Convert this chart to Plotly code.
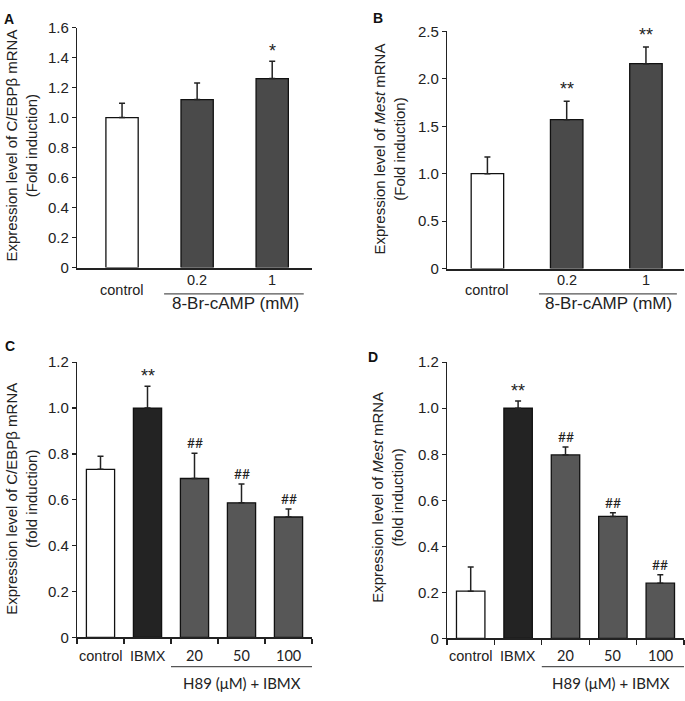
import plotly.graph_objects as go

W, H = 685, 701

# ---------------- data ----------------
a_cats = ["control", "0.2", "1"]
a_vals = [1.0, 1.12, 1.26]
a_err = [0.095, 0.11, 0.115]
a_marks = ["", "", "*"]

b_cats = ["control", "0.2", "1"]
b_vals = [1.0, 1.57, 2.16]
b_err = [0.175, 0.195, 0.175]
b_marks = ["", "**", "**"]

c_cats = ["control", "IBMX", "20", "50", "100"]
c_vals = [0.733, 1.0, 0.693, 0.587, 0.525]
c_err = [0.057, 0.095, 0.11, 0.082, 0.035]
c_marks = ["", "**", "##", "##", "##"]

d_cats = ["control", "IBMX", "20", "50", "100"]
d_vals = [0.205, 1.0, 0.797, 0.53, 0.24]
d_err = [0.105, 0.032, 0.035, 0.016, 0.036]
d_marks = ["", "**", "##", "##", "##"]

a_ticks = [0, 0.2, 0.4, 0.6, 0.8, 1.0, 1.2, 1.4, 1.6]
b_ticks = [0, 0.5, 1.0, 1.5, 2.0, 2.5]
cd_ticks = [0, 0.2, 0.4, 0.6, 0.8, 1.0, 1.2]

FONT = "Liberation Sans, Arial, sans-serif"
NARROW = "Lato, Liberation Sans, sans-serif"
WHITE, DARK, BLACK, GREY = "#ffffff", "#4a4a4a", "#232323", "#575757"


def px(x):
    return x / W


def py(y):
    return 1 - y / H


fig = go.Figure()


def add_bars(cats, vals, err, colors, xa, ya, width):
    fig.add_trace(go.Bar(
        x=list(range(len(cats))), y=vals, xaxis=xa, yaxis=ya, width=width,
        marker=dict(color=colors, line=dict(color="#111111", width=1.3)),
        error_y=dict(type="data", symmetric=False, array=err,
                     arrayminus=[0] * len(err), color="#222222",
                     thickness=1.5, width=3),
        showlegend=False, hoverinfo="skip"))


add_bars(a_cats, a_vals, a_err, [WHITE, DARK, DARK], "x", "y", 0.43)
add_bars(b_cats, b_vals, b_err, [WHITE, DARK, DARK], "x2", "y2", 0.41)
add_bars(c_cats, c_vals, c_err, [WHITE, BLACK, GREY, GREY, GREY], "x3", "y3", 0.6)
add_bars(d_cats, d_vals, d_err, [WHITE, BLACK, GREY, GREY, GREY], "x4", "y4", 0.6)


def yaxis(dom, rng, ticks, anchor):
    return dict(domain=dom, range=rng, anchor=anchor, showgrid=False,
                zeroline=False, showline=True, linecolor="#222222",
                linewidth=1.2, ticks="outside", ticklen=4, tickwidth=1.2,
                tickcolor="#222222", tickvals=ticks,
                ticktext=["0" if t == 0 else f"{t:.1f}" for t in ticks],
                tickfont=dict(family=FONT, size=15, color="#222222"),
                fixedrange=True)


def xaxis_ab(dom, rng, anchor):
    return dict(domain=dom, range=rng, anchor=anchor, type="linear",
                showgrid=False, zeroline=False, showline=True,
                linecolor="#222222", linewidth=2, ticks="",
                showticklabels=False, fixedrange=True)


def xaxis_cd(dom, anchor, cats):
    n = len(cats)
    return dict(domain=dom, range=[-0.5, n - 0.5], anchor=anchor,
                type="linear", showgrid=False, zeroline=False,
                showline=True, linecolor="#222222", linewidth=2,
                ticks="outside", ticklen=5, tickwidth=1.2,
                tickcolor="#222222",
                tickvals=[i - 0.5 for i in range(n + 1)],
                ticktext=[""] * (n + 1), showticklabels=False,
                fixedrange=True)


fig.update_layout(
    width=W, height=H, margin=dict(l=0, r=0, t=0, b=0),
    paper_bgcolor="white", plot_bgcolor="white", bargap=0,
    xaxis=xaxis_ab([px(77), px(312)], [-0.6, 2.53], "y"),
    yaxis=yaxis([py(265), py(19)], [0, 1.6], a_ticks, "x"),
    xaxis2=xaxis_ab([px(447), px(684)], [-0.51, 2.48], "y2"),
    yaxis2=yaxis([py(266), py(23)], [0, 2.5], b_ticks, "x2"),
    xaxis3=xaxis_cd([px(77), px(312)], "y3", c_cats),
    yaxis3=yaxis([py(644), py(362)], [0, 1.2], cd_ticks, "x3"),
    xaxis4=xaxis_cd([px(447), px(684)], "y4", d_cats),
    yaxis4=yaxis([py(645), py(362)], [0, 1.2], cd_ticks, "x4"),
)

ann = []
# significance marks
for cats, vals, err, marks, xr, yr, off in [
        (a_cats, a_vals, a_err, a_marks, "x", "y", 0.07),
        (b_cats, b_vals, b_err, b_marks, "x2", "y2", 0.13),
        (c_cats, c_vals, c_err, c_marks, "x3", "y3", 0.045),
        (d_cats, d_vals, d_err, d_marks, "x4", "y4", 0.045)]:
    for i, (v, e, m) in enumerate(zip(vals, err, marks)):
        if not m:
            continue
        ann.append(dict(x=i, y=v + e + off, xref=xr, yref=yr, text=m,
                        showarrow=False, xanchor="center", yanchor="middle",
                        font=dict(family=NARROW if m.startswith("#") else FONT,
                                  size=18 if m.startswith("*") else 14,
                                  color="#222222")))

# A/B category labels
for xr, cats in [("x", a_cats), ("x2", b_cats)]:
    for i, c in enumerate(cats):
        ann.append(dict(x=i, y=py(288 if i == 0 else 278), xref=xr,
                        yref="paper", text=c, showarrow=False,
                        xanchor="center", yanchor="middle",
                        font=dict(family=FONT, size=14.5, color="#222222")))

# C/D category labels
for xr, cats in [("x3", c_cats), ("x4", d_cats)]:
    for i, c in enumerate(cats):
        fam = FONT if i < 2 else NARROW
        ann.append(dict(x=i, y=py(663), xref=xr, yref="paper", text=c,
                        showarrow=False, xanchor="center", yanchor="middle",
                        font=dict(family=fam, size=14.5, color="#222222")))

# group titles
for x, y, t, fam, sz in [
        (235, 302, "8-Br-cAMP (mM)", FONT, 17),
        (608, 302, "8-Br-cAMP (mM)", FONT, 17),
        (242, 691, "H89 (\u03bcM) + IBMX", NARROW, 15),
        (611, 691, "H89 (\u03bcM) + IBMX", NARROW, 15)]:
    ann.append(dict(x=px(x), y=py(y), xref="paper", yref="paper", text=t,
                    showarrow=False, xanchor="center", yanchor="middle",
                    font=dict(family=fam, size=sz, color="#222222")))

# y axis titles
ytitles = [
    (22, 140, "Expression level of C/EBP\u03b2 mRNA<br>(Fold induction)"),
    (390, 144, "Expression level of <i>Mest</i> mRNA<br>(Fold induction)"),
    (22, 502, "Expression level of C/EBP\u03b2 mRNA<br>(fold induction)"),
    (388, 501, "Expression level of <i>Mest</i> mRNA<br>(fold induction)"),
]
for x, y, t in ytitles:
    ann.append(dict(x=px(x), y=py(y), xref="paper", yref="paper", text=t,
                    textangle=-90, showarrow=False, xanchor="center",
                    yanchor="middle",
                    font=dict(family=FONT, size=15, color="#222222")))

# panel letters
for x, y, t in [(9, 10, "A"), (378, 9, "B"), (10, 345, "C"), (373, 357, "D")]:
    ann.append(dict(x=px(x), y=py(y), xref="paper", yref="paper",
                    text=f"<b>{t}</b>", showarrow=False, xanchor="center",
                    yanchor="middle",
                    font=dict(family=FONT, size=14, color="#111111")))

fig.update_layout(annotations=ann)

# group underline bars
shapes = [
    dict(type="line", xref="x", yref="paper", x0=0.56, x1=2.42,
         y0=py(292), y1=py(292), line=dict(color="#555555", width=1.3)),
    dict(type="line", xref="x2", yref="paper", x0=0.65, x1=2.39,
         y0=py(292), y1=py(292), line=dict(color="#555555", width=1.3)),
    dict(type="line", xref="x3", yref="paper", x0=1.5, x1=4.5,
         y0=py(674), y1=py(674), line=dict(color="#555555", width=1.3)),
    dict(type="line", xref="x4", yref="paper", x0=1.5, x1=4.5,
         y0=py(674), y1=py(674), line=dict(color="#555555", width=1.3)),
]
fig.update_layout(shapes=shapes)

fig.write_html(
    "out.html",
    config={"displayModeBar": False, "staticPlot": True},
    post_script="document.body.style.margin='0';"
                "document.body.style.overflow='hidden';"
                "document.documentElement.style.overflow='hidden';")
